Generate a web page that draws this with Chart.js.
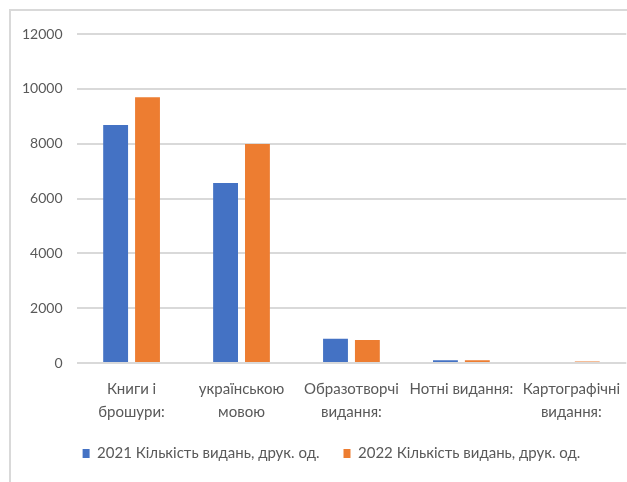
<!DOCTYPE html>
<html>
<head>
<meta charset="utf-8">
<script src="https://cdn.jsdelivr.net/npm/chart.js@4"></script>
<style>
  body { margin: 0; background: #fff; }
  #frame { position: absolute; left: 9px; top: 9px; width: 700px; height: 600px; border: 2px solid #d9d9d9; }
  #wrap { position: absolute; left: 0; top: 0; width: 627px; height: 482px; }
</style>
</head>
<body>
<div id="frame"></div>
<div id="wrap"><canvas id="chartBooks"></canvas></div>
<script>
const categories = [
    ['Книги і', 'брошури:'],
    ['українською', 'мовою'],
    ['Образотворчі', 'видання:'],
    'Нотні видання:',
    ['Картографічні', 'видання:']
];
const series2021 = [8680, 6570, 890, 100, 0];
const series2022 = [9690, 7990, 840, 100, 60];
const seriesNames = ['2021 Кількість видань, друк. од.', '2022 Кількість видань, друк. од.'];

document.addEventListener('DOMContentLoaded', function() {
    const fontFamily = "Lato, 'Open Sans', sans-serif";
    Chart.defaults.font.family = fontFamily;
    Chart.defaults.color = '#595959';

    const data_books = {
        labels: categories,
        datasets: [{
            label: seriesNames[0],
            backgroundColor: '#4472C4',
            data: series2021,
        }, {
            label: seriesNames[1],
            backgroundColor: '#ED7D31',
            data: series2022,
        }]
    };

    // legend sits a bit right of centre and close under the labels in the original
    const legendShift = {
        id: 'legendShift',
        beforeDraw(chart) {
            const lg = chart.legend;
            if (lg && !lg._shifted) {
                lg.left += 14;
                lg.right += 14;
                lg.top -= 9;
                lg.bottom -= 9;
                lg._shifted = true;
            }
        }
    };

    var booksChart = new Chart(document.getElementById('chartBooks'), {
        type: 'bar',
        data: data_books,
        plugins: [legendShift],
        options: {
            responsive: true,
            maintainAspectRatio: false,
            animation: false,
            categoryPercentage: 0.58,
            barPercentage: 0.78,
            layout: { padding: { left: 8, right: 0, top: 34, bottom: 2 } },
            plugins: {
                tooltip: { enabled: false },
                legend: {
                    position: 'bottom',
                    labels: {
                        boxWidth: 7,
                        boxHeight: 9,
                        padding: 24,
                        font: { size: 15 }
                    }
                }
            },
            scales: {
                x: {
                    grid: { display: false },
                    border: { display: false },
                    ticks: {
                        maxRotation: 0,
                        autoSkip: false,
                        padding: 7,
                        font: { size: 15, lineHeight: 1.53 }
                    }
                },
                y: {
                    min: 0,
                    max: 12000,
                    border: { display: false },
                    grid: { color: '#d9d9d9', lineWidth: 2, drawTicks: false },
                    ticks: {
                        stepSize: 2000,
                        padding: 14,
                        font: { size: 14 },
                        callback: function(v) { return String(v); }
                    }
                }
            }
        }
    });
});
</script>
</body>
</html>
